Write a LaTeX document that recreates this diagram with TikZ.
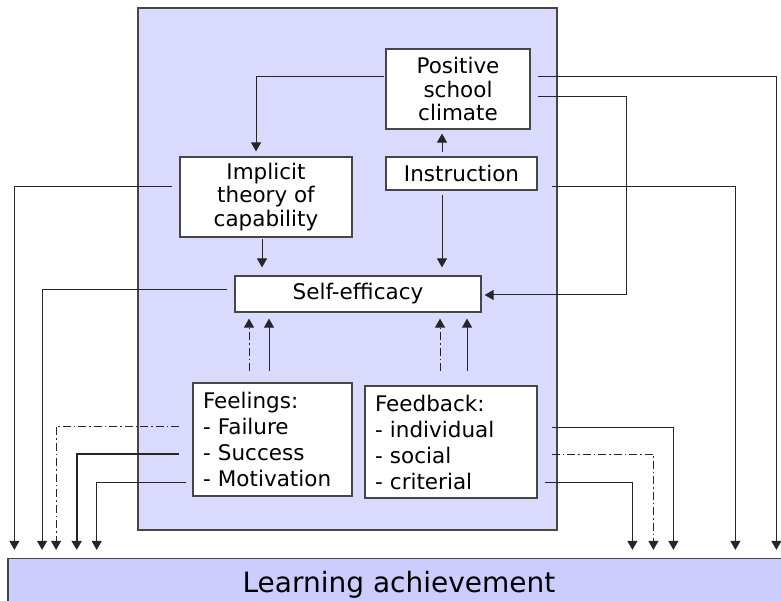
\documentclass[tikz,border=0pt]{standalone}
\usepackage{fontspec}
\setmainfont{DejaVu Sans}
\usetikzlibrary{arrows.meta,calc}
\definecolor{panel}{RGB}{218,218,255}
\definecolor{barfill}{RGB}{204,204,255}
\definecolor{edge}{RGB}{70,70,70}

\begin{document}
\begin{tikzpicture}[x=1pt,y=-1pt,
  box/.style={draw=edge, line width=1.2pt, fill=white, inner sep=0pt, align=center,
              font=\fontsize{21.5}{23.5}\selectfont},
  listbox/.style={box, align=left, font=\fontsize{21.5}{26}\selectfont,
                  text width=#1, inner xsep=10pt},
  link/.style={line width=1pt, draw=black!85},
  arr/.style={link, -{Triangle[length=9pt,width=10pt]}},
  dashdot/.style={dash pattern=on 8pt off 3pt on 1.5pt off 3pt},
  heavy/.style={line width=2pt}
]
\useasboundingbox (0,0) rectangle (781,601);

% background panel and the outcome bar
\node[draw=edge, line width=1.2pt, fill=panel, minimum width=419pt, minimum height=522pt,
      inner sep=0pt] (panel) at (347.5,269) {};
\node[draw=edge, line width=1.2pt, fill=barfill, minimum width=782pt, minimum height=53pt,
      inner sep=0pt, font=\fontsize{28}{30}\selectfont] (bar) at (399,585) {Learning achievement};

% boxes
\node[box, minimum width=144pt, minimum height=80pt] (psc) at (458,89) {Positive\\school\\climate};
\node[box, minimum width=151pt, minimum height=33pt] (ins) at (461.5,173.5) {Instruction};
\node[box, minimum width=172pt, minimum height=80pt] (imp) at (266,197) {Implicit\\theory of\\capability};
\node[box, minimum width=246pt, minimum height=36pt] (se) at (358,294) {Self-efficacy};
\node[listbox=139pt, minimum height=113pt] (feel) at (272.5,439.5) {Feelings:\\- Failure\\- Success\\- Motivation};
\node[listbox=152pt, minimum height=112pt] (fb) at (451,442) {Feedback:\\- individual\\- social\\- criterial};

% links inside the panel
\draw[arr] ($(psc.north west)+(-1,28)$) -| ($(imp.north)+(-10,-5)$);
\draw[arr] ($(ins.north)+(-19.5,-4)$) -- ($(psc.south)+(-16,4)$);
\draw[arr] ($(imp.south)+(-4,1)$) -- ($(se.north)+(-96,-8)$);
\draw[arr] ($(ins.south)+(-19.5,4)$) -- ($(se.north)+(84,-8)$);
\draw[arr] ($(psc.north east)+(7,48)$) -| ($(se.east)+(145,1)$) -- ($(se.east)+(3,1)$);

\draw[arr, dashdot] ($(feel.north)+(-23.5,-11)$) -- ($(se.south)+(-109,6)$);
\draw[arr] ($(feel.north)+(-3.5,-11)$) -- ($(se.south)+(-89,6)$);
\draw[arr, dashdot] ($(fb.north)+(-11,-14)$) -- ($(se.south)+(82,6)$);
\draw[arr] ($(fb.north)+(16,-14)$) -- ($(se.south)+(109,6)$);

% links down to the outcome bar, left side
\draw[arr] ($(imp.west)+(-7,-10)$) -| ($(bar.north west)+(7,-8)$);
\draw[arr] ($(se.west)+(-7,-4)$) -| ($(bar.north west)+(34.7,-8)$);
\draw[arr, dashdot] ($(feel.west)+(-13,-13)$) -| ($(bar.north west)+(48.7,-8)$);
\draw[arr, heavy] ($(feel.west)+(-13,14.5)$) -| ($(bar.north west)+(69.3,-8)$);
\draw[arr] ($(feel.west)+(-6,42.5)$) -| ($(bar.north west)+(89.3,-8)$);

% links down to the outcome bar, right side
\draw[arr] ($(fb.east)+(7,40)$) -| ($(bar.north west)+(625,-8)$);
\draw[arr, dashdot] ($(fb.east)+(14,12)$) -| ($(bar.north west)+(646,-8)$);
\draw[arr] ($(fb.east)+(14,-15)$) -| ($(bar.north west)+(666,-8)$);
\draw[arr] ($(ins.east)+(14,13)$) -| ($(bar.north west)+(728,-8)$);
\draw[arr] ($(psc.north east)+(7,28)$) -| ($(bar.north west)+(769,-8)$);
\end{tikzpicture}
\end{document}
